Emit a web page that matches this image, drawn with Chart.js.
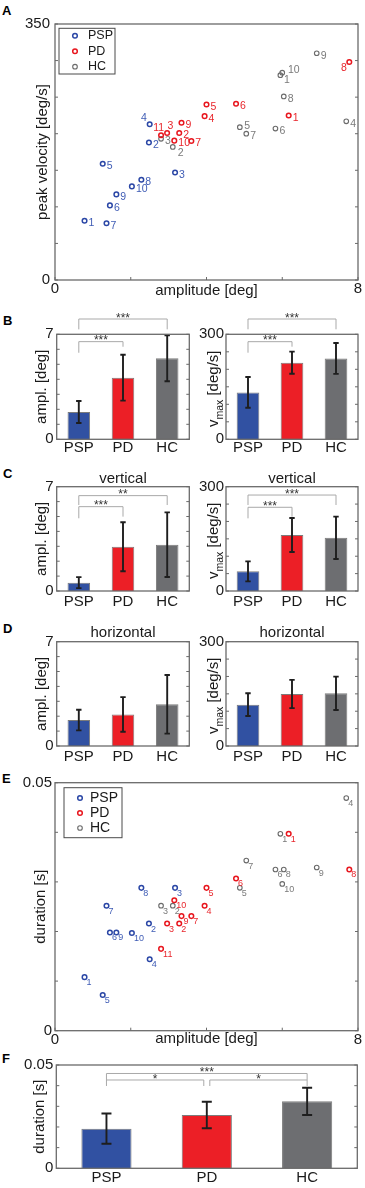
<!DOCTYPE html>
<html><head><meta charset="utf-8">
<script src="https://cdn.jsdelivr.net/npm/chart.js@4.4.1/dist/chart.umd.min.js"></script>
<style>
html,body{margin:0;padding:0;background:#fff;}
body{width:365px;height:1188px;position:relative;overflow:hidden;font-family:'Liberation Sans',Arial,sans-serif;}
canvas{position:absolute;}
.pl{position:absolute;font-weight:bold;font-size:13px;line-height:13px;color:#000;}
</style></head><body>
<div class="pl" style="left:2px;top:3.7px">A</div>
<div class="pl" style="left:3px;top:313.7px">B</div>
<div class="pl" style="left:3px;top:466.7px">C</div>
<div class="pl" style="left:3px;top:621.7px">D</div>
<div class="pl" style="left:2px;top:771.7px">E</div>
<div class="pl" style="left:2px;top:1051.7px">F</div>
<canvas id="cA"></canvas>
<canvas id="cB1"></canvas><canvas id="cB2"></canvas>
<canvas id="cC1"></canvas><canvas id="cC2"></canvas>
<canvas id="cD1"></canvas><canvas id="cD2"></canvas>
<canvas id="cE"></canvas>
<canvas id="cF"></canvas>
<script>
// ---------------- DATA ----------------
const GROUPS = ['PSP', 'PD', 'HC'];

// per-subject values (index = subject number - 1)
const PSP_AMP = [0.78, 2.48, 3.17, 2.50, 1.26, 1.45, 1.36, 2.28, 1.62, 2.03];
const PD_AMP  = [6.17, 3.28, 2.96, 3.95, 4.00, 4.78, 3.60, 7.77, 3.34, 3.15, 2.80];
const HC_AMP  = [5.95, 3.11, 2.80, 7.69, 4.88, 5.82, 5.05, 6.04, 6.91, 6.00];

const PSP_VEL = [81, 188, 147, 213, 159, 102, 77.5, 137, 117, 128];
const PD_VEL  = [225, 201, 201, 224, 240, 241, 190, 298, 215, 190.5, 198];
const HC_VEL  = [280, 182, 193, 217, 209, 207, 200, 251, 310, 283.5];

const PSP_DUR = [0.0108, 0.0216, 0.0288, 0.0144, 0.0072, 0.0198, 0.0252, 0.0288, 0.0198, 0.0197];
const PD_DUR  = [0.0397, 0.0216, 0.0216, 0.0252, 0.0288, 0.0307, 0.0231, 0.0325, 0.0231, 0.0263, 0.0165];
const HC_DUR  = [0.0397, 0.0252, 0.0252, 0.0469, 0.0288, 0.0325, 0.0343, 0.0325, 0.0329, 0.0296];

// group means and standard deviations (PSP, PD, HC)
const B_AMP_MEAN = [1.82, 4.11, 5.40];   const B_AMP_SD = [0.73, 1.53, 1.53];
const B_VEL_MEAN = [134, 219, 231];      const B_VEL_SD = [44, 31.5, 44];
const C_AMP_MEAN = [0.56, 2.97, 3.11];   const C_AMP_SD = [0.37, 1.64, 2.17];
const C_VEL_MEAN = [56.5, 161, 153];     const C_VEL_SD = [28.8, 49, 61];
const D_AMP_MEAN = [1.74, 2.12, 2.80];   const D_AMP_SD = [0.69, 1.16, 1.97];
const D_VEL_MEAN = [119, 149.6, 151.5];  const D_VEL_SD = [32.6, 40.7, 48];
const F_DUR_MEAN = [0.0192, 0.0258, 0.0324]; const F_DUR_SD = [0.0073, 0.0064, 0.0066];

// significance labels
const B_AMP_SIG = ['***', '***'];   // PSP-HC, PSP-PD
const B_VEL_SIG = ['***', '***'];
const C_AMP_SIG = ['**', '***'];
const C_VEL_SIG = ['***', '***'];
const F_DUR_SIG = ['***', '*', '*']; // PSP-HC, PSP-PD, PD-HC

// tick labels shown
const AMP_X_TICKS = [0, 8];
const VEL_Y_TICKS = [0, 350];
const DUR_Y_TICKS = [0, 0.05];
const AMPL_BAR_TICKS = [0, 7];
const VMAX_BAR_TICKS = [0, 300];

// ---------------- STYLE ----------------
const FONT = "'Liberation Sans', Arial, Helvetica, sans-serif";
const TXT = '#1a1a1a';
const FRAME = '#6a6a6a';
const TICK = 3;
const F15 = {family: FONT, size: 15};
const MARK = {PSP: '#2b47a6', PD: '#e8161e', HC: '#6b6b6b'};
const LABC = {PSP: '#3f5cb5', PD: '#e8262c', HC: '#7a7a7a'};
const BAR_FILL = ['#3151a2', '#ec1f26', '#6d6e71'];
const BAR_EDGE = '#7c7c7c';
Chart.defaults.font.family = FONT;

function setup(id, rect, area) {
  const [x, y, w, h] = rect; const c = document.getElementById(id);
  c.style.left = x + 'px'; c.style.top = y + 'px'; c.style.width = w + 'px'; c.style.height = h + 'px';
  c.width = w; c.height = h;
  return {canvas: c, yW: area[0] - x, padTop: area[1] - y, padRight: x + w - area[2], xH: y + h - area[3]};
}
function shownCb(shown) {
  return function (v) { const s = shown.find(t => Math.abs(t - v) < 1e-9); return s === undefined ? '' : String(s); };
}
function yLin(g, max, step, shown, title, titlePad, tickPad) {
  return {
    type: 'linear', min: 0, max: max,
    ticks: {stepSize: step, autoSkip: false, padding: tickPad, color: TXT, font: F15, callback: shownCb(shown)},
    grid: {display: false, drawTicks: false}, border: {display: false},
    title: title ? {display: true, text: title, color: TXT, font: F15, padding: {top: titlePad, bottom: 0}} : {display: false},
    afterFit: s => { s.width = g.yW; }
  };
}
function xLin(g, max, step, shown, title, titlePadB, tickPad) {
  return {
    type: 'linear', min: 0, max: max,
    ticks: {stepSize: step, autoSkip: false, padding: tickPad, color: TXT, font: F15, maxRotation: 0, callback: shownCb(shown)},
    grid: {display: false, drawTicks: false}, border: {display: false},
    title: {display: true, text: title, color: TXT, font: F15, padding: {top: 0, bottom: titlePadB}},
    afterFit: s => { s.height = g.xH; }
  };
}
function xCat(g, tickPad) {
  return {
    type: 'category',
    ticks: {padding: tickPad, color: TXT, font: F15, autoSkip: false, maxRotation: 0},
    grid: {display: false, drawTicks: false}, border: {display: false},
    afterFit: s => { s.height = g.xH; }
  };
}

// ---------------- PLUGINS ----------------
function framePlugin(xTicks) {
  return {id: 'frame', afterDraw(chart) {
    const {ctx, chartArea: a} = chart; const ys = chart.scales.y, xs = chart.scales.x;
    ctx.save(); ctx.strokeStyle = FRAME; ctx.lineWidth = 1; ctx.beginPath();
    ys.ticks.forEach(t => { const p = ys.getPixelForValue(t.value);
      ctx.moveTo(a.left, p); ctx.lineTo(a.left + TICK, p); ctx.moveTo(a.right, p); ctx.lineTo(a.right - TICK, p); });
    if (xTicks) xs.ticks.forEach(t => { const p = xs.getPixelForValue(t.value);
      ctx.moveTo(p, a.bottom); ctx.lineTo(p, a.bottom - TICK); });
    ctx.stroke();
    ctx.lineWidth = 1.3; ctx.strokeRect(a.left, a.top, a.right - a.left, a.bottom - a.top);
    ctx.restore();
  }};
}
function errBars(mean, sd, cap) {
  return {id: 'errbars', afterDatasetsDraw(chart) {
    const ctx = chart.ctx, ys = chart.scales.y, meta = chart.getDatasetMeta(0);
    ctx.save(); ctx.strokeStyle = '#1e1e1e'; ctx.lineWidth = 1.9; ctx.beginPath();
    mean.forEach((m, i) => {
      const x = meta.data[i].x, y1 = ys.getPixelForValue(m + sd[i]), y2 = ys.getPixelForValue(m - sd[i]);
      ctx.moveTo(x, y1); ctx.lineTo(x, y2);
      ctx.moveTo(x - cap, y1); ctx.lineTo(x + cap, y1);
      ctx.moveTo(x - cap, y2); ctx.lineTo(x + cap, y2);
    });
    ctx.stroke(); ctx.restore();
  }};
}
function bracketPlugin(list) {
  return {id: 'brackets', afterDraw(chart) {
    const ctx = chart.ctx, xs = chart.scales.x, ys = chart.scales.y;
    ctx.save(); ctx.strokeStyle = '#a9a9a9'; ctx.lineWidth = 1;
    list.forEach(b => {
      const x1 = xs.getPixelForValue(b.a), x2 = xs.getPixelForValue(b.b), y = ys.getPixelForValue(b.y);
      ctx.beginPath();
      ctx.moveTo(x1, ys.getPixelForValue(b.la)); ctx.lineTo(x1, y); ctx.lineTo(x2, y); ctx.lineTo(x2, ys.getPixelForValue(b.lb));
      ctx.stroke();
      ctx.fillStyle = '#333'; ctx.font = '12px ' + FONT; ctx.textAlign = 'center'; ctx.textBaseline = 'alphabetic';
      ctx.fillText(b.t, (x1 + x2) / 2, y + 2.6);
    });
    ctx.restore();
  }};
}
function headingPlugin(text, off) {
  return {id: 'heading', afterDraw(chart) {
    const a = chart.chartArea, ctx = chart.ctx;
    ctx.save(); ctx.fillStyle = TXT; ctx.font = '15px ' + FONT; ctx.textAlign = 'center'; ctx.textBaseline = 'alphabetic';
    ctx.fillText(text, (a.left + a.right) / 2, a.top - off); ctx.restore();
  }};
}
function vmaxTitle() {
  return {id: 'vmax', afterDraw(chart) {
    const a = chart.chartArea, ctx = chart.ctx;
    ctx.save(); ctx.translate(a.left - 8, (a.top + a.bottom) / 2 + 2); ctx.rotate(-Math.PI / 2);
    ctx.fillStyle = TXT; ctx.textAlign = 'left'; ctx.textBaseline = 'alphabetic';
    const big = '15px ' + FONT, small = '10.5px ' + FONT;
    ctx.font = big; const w1 = ctx.measureText('v').width, w3 = ctx.measureText(' [deg/s]').width;
    ctx.font = small; const w2 = ctx.measureText('max').width;
    let x = -(w1 + w2 + w3) / 2;
    ctx.font = big; ctx.fillText('v', x, 0); x += w1;
    ctx.font = small; ctx.fillText('max', x, 5); x += w2;
    ctx.font = big; ctx.fillText(' [deg/s]', x, 0);
    ctx.restore();
  }};
}
function pointLabels(size, def, nudges) {
  return {id: 'ptlabels', afterDatasetsDraw(chart) {
    const ctx = chart.ctx; ctx.save(); ctx.font = size + 'px ' + FONT; ctx.textBaseline = 'middle';
    chart.data.datasets.forEach((ds, di) => {
      chart.getDatasetMeta(di).data.forEach((pt, i) => {
        const n = nudges[ds.label + (i + 1)] || def;
        ctx.fillStyle = LABC[ds.label]; ctx.textAlign = n.align || 'left';
        ctx.fillText(String(i + 1), pt.x + n.dx, pt.y + n.dy);
      });
    });
    ctx.restore();
  }};
}
function boxLegend(o) {
  return {id: 'boxlegend', afterDraw(chart) {
    const a = chart.chartArea, ctx = chart.ctx, x = a.left + o.dx, y = a.top + o.dy;
    ctx.save(); ctx.fillStyle = '#fff'; ctx.fillRect(x, y, o.w, o.h);
    ctx.strokeStyle = '#4a4a4a'; ctx.lineWidth = 1; ctx.strokeRect(x, y, o.w, o.h);
    chart.data.datasets.forEach((ds, i) => {
      const ry = y + o.row0 + i * o.rowH;
      ctx.beginPath(); ctx.arc(x + o.mx, ry, ds.pointRadius, 0, 2 * Math.PI);
      ctx.strokeStyle = ds.borderColor; ctx.lineWidth = ds.pointBorderWidth; ctx.stroke();
      ctx.fillStyle = TXT; ctx.font = o.size + 'px ' + FONT; ctx.textAlign = 'left'; ctx.textBaseline = 'middle';
      ctx.fillText(ds.label, x + o.tx, ry);
    });
    ctx.restore();
  }};
}

// ---------------- CHART BUILDERS ----------------
function scatterSet(label, xs, ys, bw) {
  return {label: label, data: xs.map((v, i) => ({x: v, y: ys[i]})), borderColor: MARK[label],
    backgroundColor: 'rgba(0,0,0,0)', pointBackgroundColor: 'rgba(0,0,0,0)', pointBorderColor: MARK[label],
    pointRadius: 2.3, pointBorderWidth: bw, pointStyle: 'circle', showLine: false};
}
function scatterChart(id, rect, area, o) {
  const g = setup(id, rect, area);
  new Chart(g.canvas, {
    type: 'scatter',
    data: {datasets: [scatterSet('PSP', PSP_AMP, o.psp, 1.5), scatterSet('PD', PD_AMP, o.pd, 1.5), scatterSet('HC', HC_AMP, o.hc, 1.1)]},
    options: {
      responsive: false, animation: false, events: [],
      layout: {padding: {top: g.padTop, right: g.padRight, left: 0, bottom: 0}},
      plugins: {legend: {display: false}, tooltip: {enabled: false}},
      scales: {
        x: xLin(g, 8, 2, AMP_X_TICKS, 'amplitude [deg]', o.xTitlePad, o.xTickPad),
        y: yLin(g, o.ymax, o.ystep, o.yshown, o.ytitle, o.yTitlePad, o.yTickPad)
      }
    },
    plugins: [framePlugin(true), pointLabels(o.labSize, o.labDef, o.nudges), boxLegend(o.legend)]
  });
}
function barChart(id, rect, area, o) {
  const g = setup(id, rect, area);
  const plugins = [framePlugin(false), errBars(o.mean, o.sd, o.cap)];
  if (o.brackets) plugins.push(bracketPlugin(o.brackets));
  if (o.heading) plugins.push(headingPlugin(o.heading, o.headingOff));
  if (o.vmax) plugins.push(vmaxTitle());
  new Chart(g.canvas, {
    type: 'bar',
    data: {labels: GROUPS, datasets: [{data: o.mean, backgroundColor: BAR_FILL, borderColor: BAR_EDGE, borderWidth: 1,
      barPercentage: o.barPct, categoryPercentage: 1}]},
    options: {
      responsive: false, animation: false, events: [],
      layout: {padding: {top: g.padTop, right: g.padRight, left: 0, bottom: 0}},
      plugins: {legend: {display: false}, tooltip: {enabled: false}},
      scales: {x: xCat(g, o.xTickPad), y: yLin(g, o.max, o.step, o.shown, o.vmax ? null : o.title, o.titlePad, o.tickPad)}
    },
    plugins: plugins
  });
}

// ---------------- PANELS ----------------
scatterChart('cA', [0, 0, 365, 300], [55, 24, 358, 280], {
  psp: PSP_VEL, pd: PD_VEL, hc: HC_VEL, ymax: 350, ystep: 50, yshown: VEL_Y_TICKS,
  ytitle: 'peak velocity [deg/s]', yTitlePad: 34, yTickPad: 5, xTitlePad: 0.5, xTickPad: 0,
  labSize: 10.5, labDef: {dx: 4, dy: 2.5},
  nudges: {PSP4: {dx: -5.7, dy: -6, align: 'center'}, PD11: {dx: -2.3, dy: -6.7, align: 'center'},
    PD3: {dx: 3.2, dy: -6.4, align: 'center'}, PD8: {dx: -5.3, dy: 6, align: 'center'},
    HC1: {dx: 6.6, dy: 4.8, align: 'center'}, HC10: {dx: 5.7, dy: -2.6}, HC2: {dx: 5, dy: 6},
    HC5: {dx: 4.5, dy: -1}},
  legend: {dx: 4, dy: 4.3, w: 56, h: 45.7, row0: 7.4, rowH: 15.5, mx: 16, tx: 29, size: 12.5}
});

barChart('cB1', [0, 300, 200, 160], [56.7, 334.3, 189.3, 439.3], {
  mean: B_AMP_MEAN, sd: B_AMP_SD, max: 7, step: 1, shown: AMPL_BAR_TICKS, title: 'ampl. [deg]', titlePad: 32.5,
  tickPad: 3, xTickPad: 0, cap: 2.7, barPct: 0.51,
  brackets: [{a: 0, b: 2, y: 8.02, la: 7.33, lb: 7.33, t: B_AMP_SIG[0]}, {a: 0, b: 1, y: 6.51, la: 5.77, lb: 6.17, t: B_AMP_SIG[1]}]
});
barChart('cB2', [190, 300, 175, 160], [226, 334.3, 358, 439.3], {
  mean: B_VEL_MEAN, sd: B_VEL_SD, max: 300, step: 50, shown: VMAX_BAR_TICKS, vmax: true,
  tickPad: 2, xTickPad: 0, cap: 2.7, barPct: 0.515,
  brackets: [{a: 0, b: 2, y: 343.7, la: 314.3, lb: 314.3, t: B_VEL_SIG[0]}, {a: 0, b: 1, y: 278.9, la: 247.4, lb: 264.6, t: B_VEL_SIG[1]}]
});

barChart('cC1', [0, 455, 200, 155], [56.7, 486.7, 189.3, 591], {
  mean: C_AMP_MEAN, sd: C_AMP_SD, max: 7, step: 1, shown: AMPL_BAR_TICKS, title: 'ampl. [deg]', titlePad: 32.7,
  tickPad: 3, xTickPad: 1.7, cap: 2.7, barPct: 0.51, heading: 'vertical', headingOff: 3.5,
  brackets: [{a: 0, b: 2, y: 6.40, la: 5.77, lb: 5.77, t: C_AMP_SIG[0]}, {a: 0, b: 1, y: 5.66, la: 4.88, lb: 4.99, t: C_AMP_SIG[1]}]
});
barChart('cC2', [190, 455, 175, 155], [226, 486.7, 358, 591], {
  mean: C_VEL_MEAN, sd: C_VEL_SD, max: 300, step: 50, shown: VMAX_BAR_TICKS, vmax: true,
  tickPad: 2, xTickPad: 1.7, cap: 2.7, barPct: 0.515, heading: 'vertical', headingOff: 3.5,
  brackets: [{a: 0, b: 2, y: 276, la: 247.4, lb: 247.4, t: C_VEL_SIG[0]}, {a: 0, b: 1, y: 240.8, la: 209, lb: 213.7, t: C_VEL_SIG[1]}]
});

barChart('cD1', [0, 610, 200, 156], [56.7, 641.7, 189.3, 746], {
  mean: D_AMP_MEAN, sd: D_AMP_SD, max: 7, step: 1, shown: AMPL_BAR_TICKS, title: 'ampl. [deg]', titlePad: 32.7,
  tickPad: 3, xTickPad: 2, cap: 2.7, barPct: 0.51, heading: 'horizontal', headingOff: 5
});
barChart('cD2', [190, 610, 175, 156], [226, 641.7, 358, 746], {
  mean: D_VEL_MEAN, sd: D_VEL_SD, max: 300, step: 50, shown: VMAX_BAR_TICKS, vmax: true,
  tickPad: 2, xTickPad: 2, cap: 2.7, barPct: 0.515, heading: 'horizontal', headingOff: 5
});

scatterChart('cE', [0, 760, 365, 292], [55, 782.7, 358, 1030.7], {
  psp: PSP_DUR, pd: PD_DUR, hc: HC_DUR, ymax: 0.05, ystep: 0.01, yshown: DUR_Y_TICKS,
  ytitle: 'duration [s]', yTitlePad: 32, yTickPad: 3, xTitlePad: 4, xTickPad: 0,
  labSize: 9, labDef: {dx: 2, dy: 5.5}, nudges: {},
  legend: {dx: 9, dy: 5, w: 58, h: 50, row0: 10.3, rowH: 15, mx: 16, tx: 26, size: 14}
});

barChart('cF', [0, 1052, 365, 136], [56.3, 1065, 357.3, 1168.3], {
  mean: F_DUR_MEAN, sd: F_DUR_SD, max: 0.05, step: 0.01, shown: DUR_Y_TICKS, title: 'duration [s]', titlePad: 31,
  tickPad: 3, xTickPad: 0.7, cap: 5, barPct: 0.5,
  brackets: [{a: 0, b: 2, y: 0.04589, la: 0.04274, lb: 0.04274, t: F_DUR_SIG[0]},
    {a: 0, b: 0.97, y: 0.04274, la: 0.03984, lb: 0.03984, t: F_DUR_SIG[1]},
    {a: 1.03, b: 2, y: 0.04274, la: 0.03984, lb: 0.03984, t: F_DUR_SIG[2]}]
});
</script>
</body></html>
